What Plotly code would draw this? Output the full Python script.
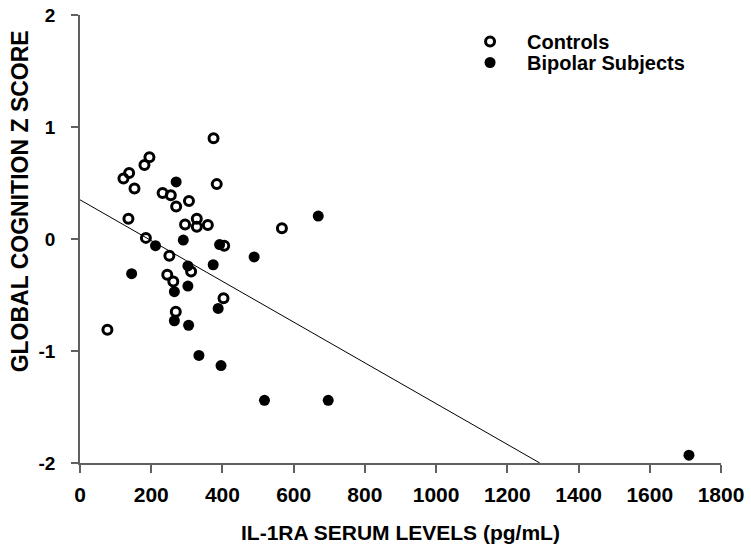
import plotly.graph_objects as go

# ---- data ----
controls_x = [77, 122, 138, 153, 181, 195, 136, 185, 232, 255, 270, 306, 375, 384,
              295, 328, 328, 359, 405, 251, 245, 262, 312, 403, 269, 567]
controls_y = [-0.81, 0.54, 0.59, 0.45, 0.66, 0.73, 0.18, 0.01, 0.41, 0.39, 0.29, 0.34,
              0.90, 0.49, 0.13, 0.18, 0.11, 0.125, -0.06, -0.15, -0.32, -0.38, -0.29,
              -0.53, -0.65, 0.095]

bipolar_x = [145, 212, 270, 290, 303, 265, 303, 265, 305, 334, 374, 392, 388, 396,
             489, 518, 669, 697, 1710]
bipolar_y = [-0.31, -0.06, 0.51, -0.01, -0.24, -0.47, -0.42, -0.73, -0.77, -1.04,
             -0.23, -0.05, -0.62, -1.13, -0.16, -1.44, 0.205, -1.44, -1.93]

fit_intercept = 0.35
fit_slope = -0.00182

x_ticks = [0, 200, 400, 600, 800, 1000, 1200, 1400, 1600, 1800]
y_ticks = [-2, -1, 0, 1, 2]
x_range = [0, 1800]
y_range = [-2, 2]

x_title = "IL-1RA SERUM LEVELS (pg/mL)"
y_title = "GLOBAL COGNITION Z SCORE"

# regression line from x=0 to where it meets the bottom of the axis
fit_x_end = (y_range[0] - fit_intercept) / fit_slope
fit_x = [0, fit_x_end]
fit_y = [fit_intercept + fit_slope * v for v in fit_x]

FONT = "Liberation Sans, Arial, sans-serif"
AXIS_COLOR = "#606060"

fig = go.Figure()

fig.add_trace(go.Scatter(
    x=fit_x, y=fit_y, mode="lines",
    line=dict(color="black", width=1),
    showlegend=False, hoverinfo="skip",
))

fig.add_trace(go.Scatter(
    x=controls_x, y=controls_y, mode="markers", name="Controls",
    marker=dict(symbol="circle-open", size=9, color="black",
                line=dict(width=3, color="black")),
    legend="legend",
))

fig.add_trace(go.Scatter(
    x=bipolar_x, y=bipolar_y, mode="markers", name="Bipolar Subjects",
    marker=dict(symbol="circle", size=11, color="black",
                line=dict(width=0)),
    legend="legend2",
))

legend_common = dict(
    xanchor="left", yanchor="middle",
    font=dict(family=FONT, size=20, color="black", weight="bold"),
    bgcolor="rgba(0,0,0,0)", borderwidth=0, itemwidth=64,
)

fig.update_layout(
    width=751, height=554,
    margin=dict(l=80, r=30, t=15, b=91, autoexpand=False),
    paper_bgcolor="white", plot_bgcolor="white",
    font=dict(family=FONT, color="black"),
    legend=dict(x=0.582, y=0.941, **legend_common),
    legend2=dict(x=0.582, y=0.894, **legend_common),
    xaxis=dict(
        range=x_range, tickvals=x_ticks, ticktext=[str(v) for v in x_ticks],
        showgrid=False, zeroline=False, showline=True, automargin=False,
        linecolor=AXIS_COLOR, linewidth=1.5,
        ticks="outside", ticklen=8, tickwidth=1.5, tickcolor=AXIS_COLOR,
        tickfont=dict(family=FONT, size=21, color="black", weight="bold"),
        ticklabelstandoff=4, ticklabeloverflow="allow",
    ),
    yaxis=dict(
        range=y_range, tickvals=y_ticks, ticktext=[str(v) for v in y_ticks],
        showgrid=False, zeroline=False, showline=True, automargin=False,
        linecolor=AXIS_COLOR, linewidth=1.5,
        ticks="outside", ticklen=7, tickwidth=1.5, tickcolor=AXIS_COLOR,
        tickfont=dict(family=FONT, size=19, color="black", weight="bold"),
        ticklabelstandoff=12, ticklabeloverflow="allow",
    ),
    annotations=[
        dict(text=x_title, xref="paper", yref="paper", x=0.5, y=-0.156,
             xanchor="center", yanchor="middle", showarrow=False,
             font=dict(family=FONT, size=21, color="black", weight="bold")),
        dict(text=y_title, xref="paper", yref="paper", x=-0.0945, y=0.585,
             xanchor="center", yanchor="middle", showarrow=False, textangle=-90,
             font=dict(family=FONT, size=23, color="black", weight="bold")),
    ],
)

# remove the default 8px page margin so the figure fills the window exactly
fig.write_html("out.html", config={"displayModeBar": False},
               post_script="document.body.style.margin='0';")
